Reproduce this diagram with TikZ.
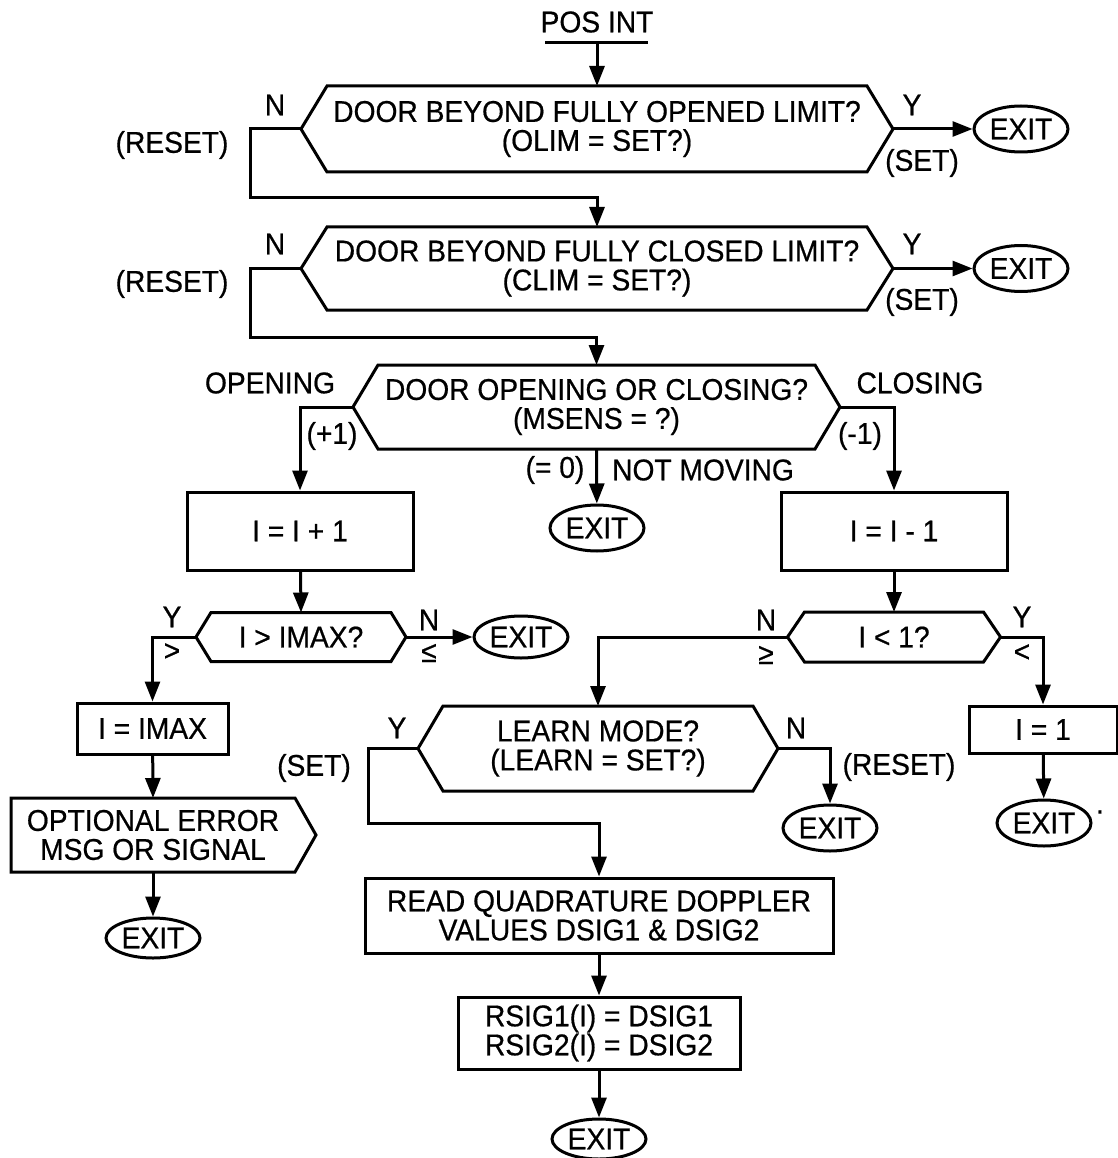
\documentclass[tikz,border=0pt]{standalone}
\usepackage{fontspec}
\setmainfont{Liberation Sans}[FakeStretch=0.94, FakeBold=0.6]
\usetikzlibrary{arrows.meta,shapes.geometric}

\tikzset{
  flow/.style={line width=3pt, -{Triangle[length=20pt,width=15pt]}},
  edge/.style={line width=3pt},
  dec/.style={inner sep=0pt, outer sep=0pt, align=center},
  proc/.style={draw, line width=3pt, inner sep=0pt, align=center},
  stop/.style={draw, ellipse, line width=3pt, inner sep=0pt, minimum width=94pt, minimum height=46pt},
  lbl/.style={inner sep=0pt},
}

% hexagon round a decision node, tips named <node>-l and <node>-r
\newcommand{\hexout}[2]{%
  \draw[edge, line join=miter] (#1.north west) -- (#1.north east) -- ([xshift=#2]#1.east) coordinate (#1-r)
    -- (#1.south east) -- (#1.south west) -- ([xshift=-#2]#1.west) coordinate (#1-l) -- cycle;}

\begin{document}
\begin{tikzpicture}[x=1pt, y=-1pt, font=\fontsize{30}{29}\selectfont]
\useasboundingbox (0,0) rectangle (1117,1158);

% Entry
\node[lbl] (posint) at (597,22) {POS INT};
\draw[edge] (545,43) -- (648,43);
\coordinate (pbar) at (597,43);

% Opened limit
\node[dec, minimum width=540pt, minimum height=86pt] (olim) at (597,129) {DOOR BEYOND FULLY OPENED LIMIT?\\(OLIM = SET?)};
\hexout{olim}{26}
\node[stop] (exit1) at (1021,129) {EXIT};
\node[lbl] (n1) at (275,105) {N};
\node[lbl] (reset1) at (172,145) {(RESET)};
\node[lbl] (y1) at (912,105) {Y};
\node[lbl] (set1) at (922,163) {(SET)};

% Closed limit
\node[dec, minimum width=540pt, minimum height=83pt] (clim) at (597,268.5) {DOOR BEYOND FULLY CLOSED LIMIT?\\(CLIM = SET?)};
\hexout{clim}{26}
\node[stop] (exit2) at (1021,268.5) {EXIT};
\node[lbl] (n2) at (275,244) {N};
\node[lbl] (reset2) at (172,284) {(RESET)};
\node[lbl] (y2) at (912,244) {Y};
\node[lbl] (set2) at (922,302) {(SET)};

% Direction of motion
\node[dec, minimum width=437pt, minimum height=84pt] (msens) at (596.5,407) {DOOR OPENING OR CLOSING?\\(MSENS = ?)};
\hexout{msens}{25}
\node[lbl] (opening) at (270,383) {OPENING};
\node[lbl] (closing) at (920,383) {CLOSING};
\node[lbl] (plus1) at (332,436) {(+1)};
\node[lbl] (minus1) at (860,436) {(-1)};
\node[lbl] (zero) at (555,470) {(= 0)};
\node[lbl] (notmov) at (703,470) {NOT MOVING};
\node[stop] (exit3) at (597,528) {EXIT};
\node[proc, minimum width=226pt, minimum height=78pt] (inc) at (300,531) {I = I + 1};
\node[proc, minimum width=226pt, minimum height=78pt] (dec) at (894,531) {I = I - 1};

% Upper bound
\node[dec, minimum width=180pt, minimum height=49pt] (imax) at (301,637) {I > IMAX?};
\hexout{imax}{15}
\node[stop, minimum height=42pt] (exit4) at (521,637) {EXIT};
\node[lbl] (y4) at (172,617) {Y};
\node[lbl] (gt4) at (172,652) {>};
\node[lbl] (n4) at (429,620) {N};
\node[lbl] (le4) at (429,653) {≤};
\node[proc, minimum width=151pt, minimum height=51pt] (setmax) at (152.5,728.5) {I = IMAX};
\node[dec, minimum width=284pt, minimum height=74pt] (err) at (153,835) {OPTIONAL ERROR\\MSG OR SIGNAL};
\draw[edge, line join=miter] (err.north west) -- (err.north east) -- ([xshift=21]err.east)
  -- (err.south east) -- (err.south west) -- cycle;
\node[stop, minimum height=40pt] (exit5) at (153,938) {EXIT};

% Lower bound
\node[dec, minimum width=179pt, minimum height=50pt] (imin) at (894,637) {I < 1?};
\hexout{imin}{17}
\node[lbl] (n5) at (766,620) {N};
\node[lbl] (ge5) at (766,655) {≥};
\node[lbl] (y5) at (1022,617) {Y};
\node[lbl] (lt5) at (1022,653) {<};
\node[proc, minimum width=148pt, minimum height=47pt] (setone) at (1043,729.5) {I = 1};
\node[stop] (exit6) at (1044,823) {EXIT};
\node[lbl] (dot) at (1100,812) {.};

% Learn mode
\node[dec, minimum width=310pt, minimum height=85pt] (learn) at (598,748.5) {LEARN MODE?\\(LEARN = SET?)};
\hexout{learn}{25}
\node[lbl] (y6) at (397,728) {Y};
\node[lbl] (set6) at (314,768) {(SET)};
\node[lbl] (n6) at (796,728) {N};
\node[lbl] (reset6) at (899,767) {(RESET)};
\node[stop] (exit7) at (830,828) {EXIT};
\node[proc, minimum width=468pt, minimum height=75pt] (read) at (599,915.5) {READ QUADRATURE DOPPLER\\VALUES DSIG1 \& DSIG2};
\node[proc, minimum width=282pt, minimum height=72pt] (store) at (599,1033) {RSIG1(I) = DSIG1\\RSIG2(I) = DSIG2};
\node[stop, minimum height=40pt] (exit8) at (599,1139) {EXIT};

% Connectors
\draw[flow] (pbar) -- (olim.north);
\draw[flow] (olim-r) -- (exit1);
\draw[flow] (olim-l) -- ++(-51,0) -- ++(0,69) -| (clim.north);
\draw[flow] (clim-r) -- (exit2);
\draw[flow] (clim-l) -- ++(-51,0) -- ++(0,68.5) -| (msens.north);
\draw[flow] (msens-l) -| (inc.north);
\draw[flow] (msens-r) -| (dec.north);
\draw[flow] (msens.south) -- (exit3);
\draw[flow] (inc) -- (imax.north);
\draw[flow] (imax-r) -- (exit4);
\draw[flow] (imax-l) -| (setmax.north);
\draw[flow] (setmax) -- (err.north);
\draw[flow] (err.south) -- (exit5);
\draw[flow] (dec) -- (imin.north);
\draw[flow] (imin-r) -| (setone.north);
\draw[flow] (setone) -- (exit6);
\draw[flow] (imin-l) -| (learn.north);
\draw[flow] (learn-r) -| (exit7.north);
\draw[flow] (learn-l) -- ++(-50,0) -- ++(0,74.5) -| (read.north);
\draw[flow] (read) -- (store);
\draw[flow] (store) -- (exit8);
\end{tikzpicture}
\end{document}
